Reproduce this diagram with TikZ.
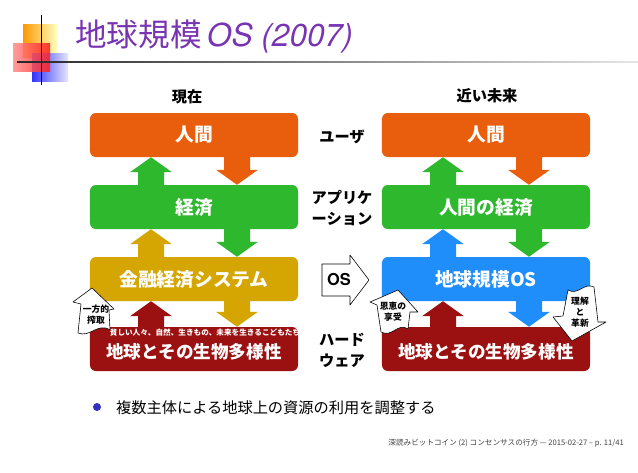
\documentclass[tikz,border=0pt]{standalone}
\usepackage{fontspec}
\setmainfont{Noto Sans CJK JP}
\newfontfamily\heros{TeX Gyre Heros}
\usetikzlibrary{calc, positioning}

\definecolor{humanor}{RGB}{232,94,12}
\definecolor{econgr}{RGB}{46,184,46}
\definecolor{fingold}{RGB}{213,166,2}
\definecolor{earthred}{RGB}{155,16,16}
\definecolor{osblue}{RGB}{32,142,250}
\definecolor{titlepurple}{RGB}{120,52,178}
\definecolor{bulletblue}{RGB}{50,50,190}

\tikzset{
  layer/.style={rounded corners=5pt, minimum width=6.24cm, minimum height=1.32cm, inner sep=0pt,
    text=white, font=\fontsize{16}{16}\selectfont\bfseries},
  earthtext/.style={text=white, font=\fontsize{15}{15}\selectfont\bfseries},
  side/.style={font=\fontsize{13}{18}\selectfont\bfseries, align=center},
  callout/.style={font=\fontsize{7.5}{9.5}\selectfont\bfseries, align=center, inner sep=0pt},
  blob/.style={draw=black, fill=white, line width=0.5pt, line join=round},
}

% block arrows: colour, from box, to box
\newcommand{\blkup}[3]{%
  \fill[#1] ($(#3.south)+(-43,0)$) -- ($(#3.south)+(-64,15)$) -- ($(#3.south)+(-56,15)$)
    -- ($(#2.north)+(-56,6)$) -- ($(#2.north)+(-30,6)$) -- ($(#3.south)+(-30,15)$)
    -- ($(#3.south)+(-22,15)$) -- cycle;}
\newcommand{\blkdown}[3]{%
  \fill[#1] ($(#3.north)+(43,0)$) -- ($(#3.north)+(22,-15)$) -- ($(#3.north)+(30,-15)$)
    -- ($(#2.south)+(30,-6)$) -- ($(#2.south)+(56,-6)$) -- ($(#3.north)+(56,-15)$)
    -- ($(#3.north)+(64,-15)$) -- cycle;}

\begin{document}
\begin{tikzpicture}[x=0.03cm, y=-0.03cm]
  \useasboundingbox (0,0) rectangle (638,473);

  % logo and title rule
  \shade[left color=orange!80!yellow, right color=yellow!25] (23,24) rectangle (57,57);
  \shade[left color=blue!80, right color=blue!10] (32,53) rectangle (68,81);
  \shade[left color=red!45, right color=red!90, opacity=0.85] (13,43) rectangle (50,71);
  \draw[line width=0.8pt] (41,15) -- (41,85);
  \shade[left color=black!85, right color=black!10] (17,61.4) rectangle (638,62.6);
  \node[anchor=west, text=titlepurple, font=\fontsize{27}{27}\selectfont] (title) at (71,37)
    {地球規模\,{\heros\itshape OS (2007)}};

  % headers
  \node[side] (nowhdr) at (187,97) {現在};
  \node[side] (futhdr) at (487,96) {近い未来};

  % left column
  \node[layer, fill=humanor] (humanL) at (194,135) {人間};
  \node[layer, fill=econgr] (econL) at (194,207) {経済};
  \node[layer, fill=fingold] (finL) at (194,279) {金融経済システム};
  \node[layer, fill=earthred] (earthL) at (194,349) {};

  % right column
  \node[layer, fill=humanor] (humanR) at (486,135) {人間};
  \node[layer, fill=econgr] (econR) at (486,207) {人間の経済};
  \node[layer, fill=osblue] (osR) at (486,279) {地球規模OS};
  \node[layer, fill=earthred] (earthR) at (486,349) {};

  % arrows between layers
  \blkdown{humanor}{humanL}{econL}
  \blkup{econgr}{econL}{humanL}
  \blkdown{econgr}{econL}{finL}
  \blkup{fingold}{finL}{econL}
  \blkdown{fingold}{finL}{earthL}
  \blkup{earthred}{earthL}{finL}

  \blkdown{humanor}{humanR}{econR}
  \blkup{econgr}{econR}{humanR}
  \blkdown{econgr}{econR}{osR}
  \blkup{osblue}{osR}{econR}
  \blkdown{osblue}{osR}{earthR}
  \blkup{earthred}{earthR}{osR}

  % texts on the bottom layer
  \node[earthtext] (earthLtxt) at (194,352) {地球とその生物多様性};
  \node[earthtext] (earthRtxt) at (486,352) {地球とその生物多様性};
  \node[text=white, font=\fontsize{6.5}{6.5}\selectfont\bfseries] (poorL) at (205,333)
    {貧しい人々、自然、生きもの、未来を生きるこどもたち};

  % callouts
  \draw[blob] (92,288) -- (114,309) -- (109,310) -- (110,330)
    .. controls (98,322) and (90,338) .. (78,333) -- (81,304) -- (73,302) -- cycle;
  \node[callout] (exploit) at (96,315) {一方的\\搾取};

  \draw[blob] (398,290) -- (418,312) -- (410,312) -- (408,329)
    .. controls (398,322) and (392,338) .. (381,332) -- (377,305) -- (370,302) -- cycle;
  \node[callout] (benefit) at (393,312) {恩恵の\\享受};

  \draw[blob] (568,290) .. controls (578,296) and (584,282) .. (594,287) -- (598,322)
    -- (606,322) -- (572,341) -- (553,317) -- (563,316) -- cycle;
  \node[callout] (innovate) at (580,312) {理解\\と\\革新};

  % middle labels
  \node[side] (userlbl) at (342,137) {ユーザ};
  \node[side] (applbl) at (342,208) {アプリケ\\ーション};
  \draw[blob] (322,264) -- (350,264) -- (350,255) -- (369,280) -- (350,305) -- (350,296)
    -- (322,296) -- cycle;
  \node[font=\heros\fontsize{14}{14}\selectfont\bfseries] (oslbl) at (339,280) {OS};
  \node[side] (hwlbl) at (342,350) {ハード\\ウェア};

  % bullet and footer
  \fill[bulletblue] (97,407) circle[radius=0.12cm];
  \node[anchor=west, font=\fontsize{13}{13}\selectfont] (bullet) at (112,408)
    {複数主体による地球上の資源の利用を調整する};
  \node[anchor=east, text=black!75, font=\fontsize{6.5}{6.5}\selectfont] (footer) at (628,443)
    {深読みビットコイン (2) コンセンサスの行方 — 2015-02-27 – p. 11/41};
\end{tikzpicture}
\end{document}
